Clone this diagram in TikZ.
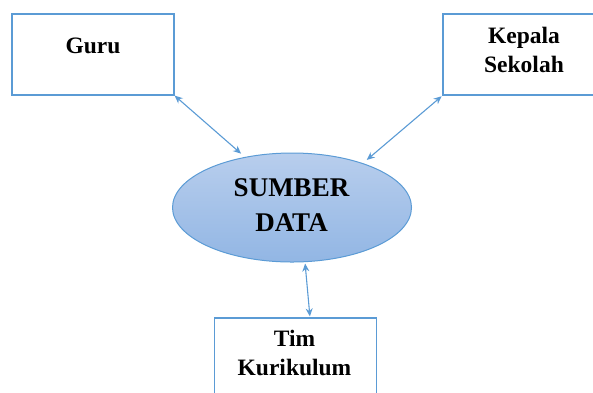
\documentclass[tikz,border=0pt]{standalone}
\usepackage{fontspec}
\setmainfont{Liberation Serif}
\usetikzlibrary{shapes.geometric,arrows.meta}

\definecolor{garisbiru}{RGB}{91,155,213}
\definecolor{isiatas}{RGB}{184,206,237}
\definecolor{isibawah}{RGB}{146,182,228}

\tikzset{
  kotak/.style={draw=garisbiru, line width=1.2pt, fill=white, rectangle, minimum width=162, minimum height=81, inner sep=0},
  teks/.style={inner sep=0, align=center, font={\fontsize{23.5}{29}\selectfont\bfseries}},
  elips/.style={draw=garisbiru, line width=1pt, ellipse, top color=isiatas, bottom color=isibawah, minimum width=239, minimum height=109, inner sep=0},
  teksbesar/.style={inner sep=0, align=center, font={\fontsize{27}{35}\selectfont\bfseries}},
  panah/.style={draw=garisbiru, line width=1.1pt, {Stealth[length=8pt,width=7pt]}-{Stealth[length=8pt,width=7pt]}}
}

\begin{document}
\begin{tikzpicture}[x=1pt,y=1pt,yscale=-1,xscale=1]
\useasboundingbox (0,0) rectangle (593,392);

% Boxes
\node [kotak] (guru) at (93,54.5) {};
\node [kotak] (kepala) at (524,54.5) {};
\node [kotak] (tim) at (295.5,363) [minimum height=90] {};

% Ellipse
\node [elips] (data) at (292,207.5) {};

% Text Node
\node [teks, anchor=base] (guruteks) at (93,53) {Guru};
% Text Node
\node [teks] (kepalateks) at (524,49.5) {Kepala\\Sekolah};
% Text Node
\node [teks] (timteks) at (294.5,352.5) {Tim\\Kurikulum};
% Text Node
\node [teksbesar] (datateks) at (291.5,205) {SUMBER\\DATA};

% Arrows
\draw [panah, shorten >=5pt] (guru.south east) -- (data.133);
\draw [panah, shorten >=5pt, shorten <=1pt] (kepala.south west) -- (data.32);
\draw [panah, shorten <=1pt, shorten >=1pt] ([xshift=13]data.south) -- ([xshift=14.5]tim.north);

\end{tikzpicture}
\end{document}
